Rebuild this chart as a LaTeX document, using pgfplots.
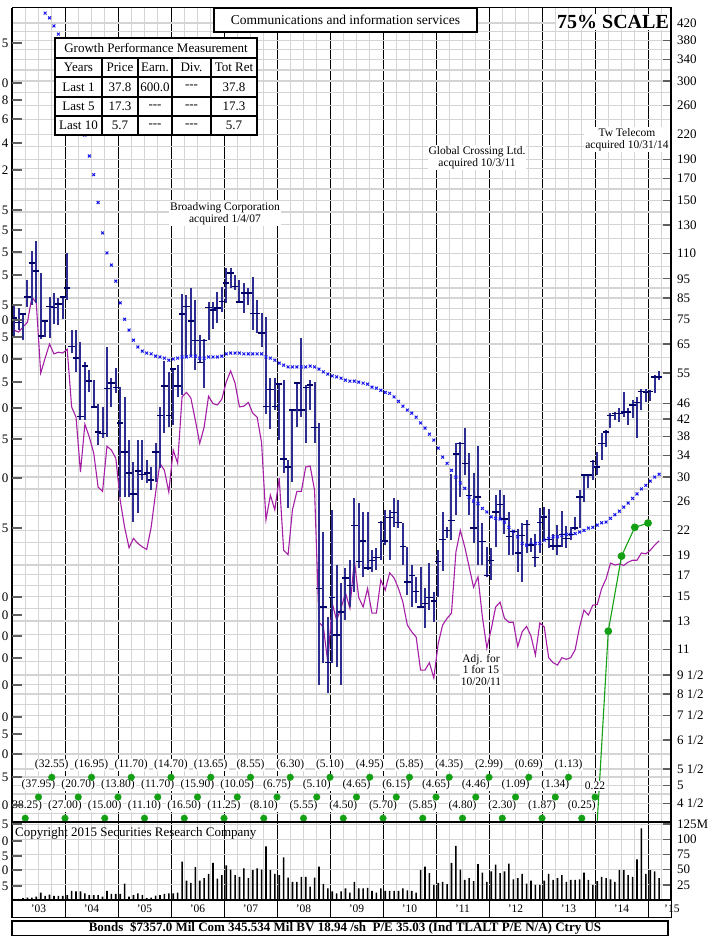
\documentclass[border=0pt]{standalone}
\usepackage{fontspec}
\setmainfont{Liberation Serif}
\usepackage{pgfplots}
\pgfplotsset{compat=1.18}
\usepackage{pgfplotstable}

\definecolor{barblue}{RGB}{45,45,145}
\definecolor{closeblue}{RGB}{0,0,105}
\definecolor{xblue}{RGB}{25,25,235}
\definecolor{rsmag}{RGB}{165,30,165}
\definecolor{epsgreen}{RGB}{20,160,20}
\definecolor{gridgray}{RGB}{212,212,212}
\definecolor{tickgray}{RGB}{95,95,95}

\newcommand{\fs}[1]{\fontsize{#1}{#1}\selectfont}

% monthly price bars, m = months since Jan 2003
\pgfplotstableread{
m hi lo cl
0 81.0 67.7 75.6
1 80.1 70.5 73.8
2 77.8 66.5 77.4
3 94.3 80.5 85.4
4 111.6 81.5 104.1
5 118.3 82.6 99.4
6 98.2 66.9 68.1
7 74.7 67.7 74.3
8 85.4 67.3 81.0
9 87.4 73.0 80.5
10 84.9 72.6 82.0
11 85.8 75.1 85.4
12 110.4 84.0 90.0
13 70.5 61.7 64.2
14 70.5 55.3 59.9
15 65.7 41.8 42.7
16 58.5 41.8 57.2
17 55.9 49.1 52.4
18 52.7 44.8 45.1
19 46.0 36.1 39.0
20 45.1 37.6 38.7
21 63.9 37.9 50.3
22 53.3 45.1 51.8
23 56.5 48.8 50.6
24 50.6 26.7 41.1
25 47.8 26.7 34.7
26 37.2 26.7 30.7
27 32.7 23.1 27.2
28 37.2 24.4 31.1
29 37.2 29.5 30.5
30 33.1 29.0 30.7
31 31.8 27.8 29.5
32 36.5 29.1 34.7
33 45.1 31.6 43.0
34 58.9 38.7 50.9
35 55.3 40.1 43.0
36 56.5 40.6 56.2
37 57.5 47.8 50.9
38 86.9 48.3 77.4
39 86.4 60.3 81.0
40 90.0 61.0 74.3
41 84.0 55.9 66.5
42 68.5 58.2 58.5
43 66.9 50.3 66.5
44 83.0 66.5 80.5
45 83.0 70.9 79.2
46 87.9 73.4 80.1
47 90.5 78.3 83.4
48 101.1 82.6 92.7
49 101.1 90.0 98.2
50 97.1 89.0 91.0
51 94.3 82.6 83.0
52 92.7 77.8 87.4
53 90.0 81.5 87.4
54 96.0 70.5 77.8
55 84.0 69.3 77.8
56 77.8 63.9 69.3
57 76.0 43.3 45.3
58 53.3 39.6 50.0
59 53.3 44.3 45.3
60 51.8 37.2 51.5
61 52.7 30.7 33.3
62 33.1 25.1 31.8
63 44.6 29.1 44.3
64 52.1 40.1 51.8
65 67.3 42.5 44.3
66 51.2 36.5 50.6
67 52.7 44.3 51.2
68 52.1 36.5 40.1
69 41.1 8.95 15.7
70 21.8 10.2 14.1
71 13.3 8.55 10.2
72 24.8 10.2 14.9
73 18.0 9.95 11.97
74 16.2 8.95 13.7
75 17.7 13.06 16.7
76 18.5 14.1 16.0
77 26.5 15.4 22.6
78 25.8 17.7 18.4
79 24.5 16.8 20.7
80 24.5 17.5 17.7
81 19.6 17.3 18.5
82 19.9 17.5 18.8
83 23.2 18.5 23.0
84 24.8 20.2 20.7
85 24.8 18.5 23.7
86 26.5 22.4 24.4
87 26.2 22.3 23.0
88 23.0 18.0 20.0
89 20.0 15.1 16.3
90 18.0 14.1 16.9
91 16.8 14.4 15.4
92 17.8 14.0 14.1
93 15.7 12.5 14.4
94 18.2 13.85 14.9
95 15.4 12.9 14.6
96 19.6 14.9 18.4
97 24.5 17.4 20.9
98 22.4 21.0 22.0
99 30.5 20.8 23.3
100 36.5 24.1 34.3
101 36.8 26.7 36.5
102 39.8 30.35 32.5
103 34.5 24.1 27.0
104 30.7 20.4 22.3
105 35.9 18.0 26.7
106 23.0 18.0 20.6
107 20.0 16.8 16.9
108 19.9 16.5 18.5
109 27.0 20.0 24.5
110 27.8 23.4 25.6
111 27.0 21.6 23.5
112 24.5 19.1 21.2
113 22.0 19.1 21.9
114 22.2 17.3 19.3
115 23.0 16.3 21.4
116 23.4 19.3 22.8
117 21.0 19.4 20.2
118 21.6 17.8 18.8
119 25.1 19.3 23.0
120 25.2 20.8 23.8
121 24.9 19.9 20.9
122 21.6 19.6 20.1
123 22.7 19.1 20.1
124 24.6 20.0 21.5
125 22.6 19.9 21.0
126 22.4 20.8 21.5
127 23.8 22.1 22.3
128 27.8 22.3 26.7
129 30.5 25.9 30.35
130 30.5 28.1 30.35
131 33.1 29.5 32.9
132 34.7 30.35 31.8
133 38.7 33.1 36.5
134 39.4 35.7 39.0
135 43.5 39.8 43.0
136 43.8 41.8 43.5
137 44.8 41.3 43.5
138 49.1 42.5 43.8
139 44.8 40.6 43.8
140 46.9 42.3 45.6
141 47.8 37.6 46.3
142 50.0 44.3 49.4
143 50.0 46.3 49.1
144 49.7 46.6 49.4
145 54.3 48.8 53.7
146 55.6 52.7 53.7
}\pricedata

% blue crosses (months hidden behind the table left out)
\pgfplotstableread{
m v
7 445
8 433
9 413
10 394
16 219
17 194
18 174
19 148
20 124
21 110.4
22 102.9
23 93.7
24 82.6
25 75.1
26 70.5
27 66.5
28 63.9
29 62.4
30 61.7
31 61.4
32 60.6
33 60.3
34 59.9
35 59.2
36 59.6
37 59.9
38 60.3
39 60.3
40 60.6
41 60.6
42 59.9
43 59.9
44 60.3
45 60.3
46 60.3
47 60.6
48 61.4
49 61.7
50 61.7
51 61.7
52 61.4
53 61.4
54 61.4
55 61.4
56 61.4
57 60.3
58 59.9
59 59.2
60 58.2
61 57.5
62 56.9
63 56.9
64 56.9
65 56.9
66 56.9
67 57.2
68 56.9
69 56.2
70 55.3
71 54.6
72 54.0
73 53.7
74 53.3
75 52.7
76 52.4
77 52.4
78 52.1
79 51.8
80 51.5
81 50.6
82 50.3
83 49.7
84 49.1
85 48.8
86 47.8
87 46.6
88 45.3
89 44.3
90 43.5
91 42.5
92 41.1
93 39.9
94 38.5
95 37.2
96 35.5
97 33.7
98 32.5
99 31.2
100 30.0
101 29.0
102 28.1
103 26.7
104 26.1
105 25.7
106 25.0
107 24.5
108 23.8
109 23.6
110 23.5
111 23.1
112 22.4
113 21.9
114 21.2
115 20.4
116 20.2
117 20.3
118 20.4
119 20.4
120 20.8
121 21.0
122 21.2
123 21.2
124 21.4
125 21.5
126 21.5
127 21.6
128 21.8
129 22.0
130 22.3
131 22.4
132 22.7
133 23.0
134 23.1
135 23.6
136 24.1
137 24.6
138 25.2
139 25.8
140 26.5
141 27.2
142 28.0
143 28.6
144 29.3
145 30.0
146 30.5
}\maxdata

% magenta line
\pgfplotstableread{
m v
0 70.5
1 69.7
2 71.8
3 73.8
4 85.4
5 82.5
6 54.9
7 59.9
8 65.0
9 61.4
10 62.0
11 61.7
12 63.1
13 45.1
14 42.5
15 30.9
16 40.8
17 37.9
18 34.5
19 28.3
20 27.6
21 35.9
22 35.1
23 33.5
24 26.2
25 22.4
26 19.9
27 21.0
28 20.4
29 20.0
30 19.7
31 22.4
32 27.3
33 32.5
34 31.2
35 27.5
36 35.1
37 32.5
38 47.8
39 49.1
40 47.5
41 41.8
42 36.5
43 40.1
44 48.0
45 46.0
46 45.6
47 47.2
48 52.1
49 55.6
50 51.8
51 45.1
52 45.3
53 46.3
54 43.5
55 42.5
56 36.7
57 23.4
58 27.0
59 24.8
60 29.8
61 19.6
62 19.1
63 24.8
64 27.6
65 27.6
66 31.8
67 32.0
68 27.8
69 12.9
70 12.55
71 10.2
72 14.4
73 13.06
74 14.0
75 15.3
76 14.0
77 18.5
78 14.9
79 14.1
80 15.7
81 13.6
82 13.6
83 16.5
84 15.55
85 17.2
86 16.7
87 15.7
88 14.5
89 12.7
90 12.2
91 11.84
92 9.77
93 9.77
94 10.2
95 9.33
96 11.4
97 12.7
98 13.2
99 13.6
100 19.4
101 22.0
102 20.0
103 17.8
104 15.8
105 16.8
106 13.3
107 11.1
108 12.4
109 14.1
110 14.5
111 13.2
112 12.9
113 12.9
114 11.2
115 12.2
116 12.6
117 11.9
118 10.66
119 12.85
120 12.55
121 10.5
122 10.2
123 10.06
124 10.5
125 10.4
126 10.5
127 11.0
128 12.55
129 13.85
130 13.45
131 14.25
132 14.3
133 15.7
134 16.6
135 18.2
136 18.0
137 18.1
138 17.95
139 18.3
140 18.5
141 18.5
142 19.3
143 19.2
144 19.6
145 20.2
146 20.7
}\rsdata

% earnings line
\pgfplotstableread{
t v
132 3.24
135 12.25
138 18.95
141 22.4
144 22.96
}\epsline

% quarterly earnings dots in three staggered rows
\pgfplotstableread{
t v lab
3 4.13 (38.25)
12 4.13 (27.00)
21 4.13 (15.00)
30 4.13 (11.10)
39 4.13 (16.50)
48 4.13 (11.25)
57 4.13 (8.10)
66 4.13 (5.55)
75 4.13 (4.50)
84 4.13 (5.70)
93 4.13 (5.85)
102 4.13 (4.80)
111 4.13 (2.30)
120 4.13 (1.87)
129 4.13 (0.25)
6 4.67 (37.95)
15 4.67 (20.70)
24 4.67 (13.80)
33 4.67 (11.70)
42 4.67 (15.90)
51 4.67 (10.05)
60 4.67 (6.75)
69 4.67 (5.10)
78 4.67 (4.65)
87 4.67 (6.15)
96 4.67 (4.65)
105 4.67 (4.46)
114 4.67 (1.09)
123 4.67 (1.34)
132 4.67 0.22
9 5.24 (32.55)
18 5.24 (16.95)
27 5.24 (11.70)
36 5.24 (14.70)
45 5.24 (13.65)
54 5.24 (8.55)
63 5.24 (6.30)
72 5.24 (5.10)
81 5.24 (4.95)
90 5.24 (5.85)
99 5.24 (4.35)
108 5.24 (2.99)
117 5.24 (0.69)
126 5.24 (1.13)
}\epsdata

% monthly volume, millions
\pgfplotstableread{
m v
0 2
1 2
2 3
3 4
4 4
5 5.5
6 12
7 6.6
8 9
9 6.6
10 6.6
11 6.6
12 8
13 15
14 14
15 14
16 11
17 8
18 8
19 8
20 5.5
21 15
22 10
23 10
24 10
25 27
26 5.5
27 8
28 11
29 8
30 3
31 4
32 7
33 8
34 10
35 11
36 11
37 12
38 63
39 32
40 28
41 54
42 32
43 36
44 43
45 61
46 35
47 41
48 57
49 50
50 41
51 38
52 52
53 36
54 49
55 52
56 50
57 88
58 49
59 43
60 41
61 70
62 37
63 30
64 30
65 38
66 38
67 22
68 37
69 55
70 26
71 19
72 14
73 11
74 14
75 19
76 12
77 30
78 19
79 19
80 20
81 15
82 12
83 19
84 15
85 15
86 15
87 15
88 19
89 16
90 15
91 12
92 49
93 55
94 44
95 25
96 28
97 30
98 26
99 61
100 89
101 50
102 33
103 36
104 31
105 59
106 45
107 30
108 47
109 58
110 44
111 47
112 60
113 34
114 36
115 43
116 27
117 32
118 25
119 25
120 32
121 43
122 33
123 36
124 41
125 30
126 33
127 33
128 34
129 45
130 33
131 25
132 31
133 38
134 36
135 34
136 30
137 49
138 49
139 41
140 38
141 67
142 118
143 43
144 49
145 47
146 36
}\voldata

\pgfplotsset{
  chartx/.style={
    scale only axis, width=659pt, anchor=south west,
    xmin=0, xmax=149.2,
    xtick={12,24,...,144}, xticklabels={}, xtick style={draw=none},
    minor xtick={3,6,9,15,18,21,27,30,33,39,42,45,51,54,57,63,66,69,75,78,81,87,90,93,99,102,105,111,114,117,123,126,129,135,138,141,147},
    xmajorgrids, xminorgrids,
    major x grid style={black, line width=1pt},
    minor x grid style={gridgray, line width=1.3pt},
    axis line style={black, line width=1pt},
  },
}

\begin{document}
\begin{tikzpicture}
\useasboundingbox (0pt,0pt) rectangle (717pt,936pt);

% price panel: linear axis in ln(price), ticks set at ln of the price steps
\begin{axis}[chartx, at={(12pt,114pt)}, height=814pt,
  ymin=1.3962, ymax=6.1280,
  ytick={6.0403,5.9402,5.8289,5.7038,5.5607,5.3936,5.2470,5.1358,5.0106,4.8675,4.7005,4.5539,4.4427,4.3175,4.1744,4.0073,3.8286,3.7377,3.6376,3.5264,3.4012,3.2581,3.0910,2.9444,2.8332,2.7081,2.5649,2.3979,2.2513,2.1401,2.0149,1.8718,1.7047,1.6094,1.5041},
  yticklabels={420,380,340,300,260,220,190,170,150,130,110,95,85,75,65,55,46,42,38,34,30,26,22,19,17,15,13,11,9 1/2,8 1/2,7 1/2,6 1/2,5 1/2,5,4 1/2},
  minor ytick={5.9915,5.8861,5.7683,5.6348,5.4806,5.3230,5.1930,5.0752,4.9416,4.7875,4.6250,4.4998,4.3820,4.2485,4.0943,3.9120,3.7842,3.6889,3.5835,3.4657,3.3322,3.1781,3.0204,2.8904,2.7726,2.6391,2.4849,2.3273,2.1972,2.0794,1.9459,1.7918,1.6582,1.5581,1.4469},
  ymajorgrids, yminorgrids,
  major y grid style={gridgray, line width=1.3pt},
  minor y grid style={gridgray, line width=1.3pt},
  ytick pos=right, yticklabel pos=right, tick align=inside,
  major tick length=8pt, minor tick length=0pt,
  ytick style={tickgray, line width=1.4pt},
  yticklabel style={anchor=west, inner sep=0pt, xshift=6pt, font=\fs{13}},
]
\addplot[rsmag, line width=1.1pt, no marks]
  table[x expr=\thisrow{m}+0.5, y expr=ln(\thisrow{v})] {\rsdata};
\addplot[only marks, xblue, mark=x, mark size=2pt, mark options={line width=1pt}]
  table[x expr=\thisrow{m}+0.5, y expr=ln(\thisrow{v})] {\maxdata};
\addplot[only marks, mark=-, mark size=3.2pt, mark options={closeblue, line width=1.3pt},
  error bars/.cd, y dir=both, y explicit,
  error bar style={barblue, line width=2pt}, error mark=none]
  table[x expr=\thisrow{m}+0.5, y expr=ln(\thisrow{cl}),
        y error plus expr=ln(\thisrow{hi})-ln(\thisrow{cl}),
        y error minus expr=ln(\thisrow{cl})-ln(\thisrow{lo})] {\pricedata};
% earnings labels first (white boxes), dots on top
\addplot[only marks, mark=*, mark size=0.01pt, mark options={draw=none, fill=none},
  nodes near coords, point meta=explicit symbolic,
  nodes near coords align={above},
  nodes near coords style={black, fill=white, inner sep=1pt, yshift=6pt, font=\fs{11.5}}]
  table[x=t, y expr=ln(\thisrow{v}), meta=lab] {\epsdata};
\addplot[only marks, mark=*, mark size=3.3pt, epsgreen]
  table[x=t, y expr=ln(\thisrow{v})] {\epsdata};
\addplot[epsgreen, line width=1.1pt, mark=*, mark size=3.3pt]
  table[x=t, y expr=ln(\thisrow{v})] {\epsline};
\end{axis}

% volume panel
\begin{axis}[chartx, at={(12pt,36pt)}, height=78pt,
  ymin=0, ymax=128.3,
  ytick={25,50,75,100,125}, yticklabels={25,50,75,100,125M},
  ymajorgrids, major y grid style={gridgray, line width=1pt},
  ytick pos=right, yticklabel pos=right, tick align=inside,
  major tick length=8pt, minor tick length=0pt,
  ytick style={tickgray, line width=1.4pt},
  yticklabel style={anchor=west, inner sep=0pt, xshift=6pt, font=\fs{13}},
]
\addplot[ybar, bar width=1.6pt, fill=black, draw=none]
  table[x expr=\thisrow{m}+0.5, y=v] {\voldata};
\end{axis}

% year label row
\begin{axis}[chartx, at={(12pt,18pt)}, height=18pt, ymin=0, ymax=1, ytick=\empty,
  minor xtick={}, clip=false]
\addplot[draw=none] coordinates {(1,0.5)};
\node[font=\fs{11.5}] at (axis cs:6,0.5) {'03};
\node[font=\fs{11.5}] at (axis cs:18,0.5) {'04};
\node[font=\fs{11.5}] at (axis cs:30,0.5) {'05};
\node[font=\fs{11.5}] at (axis cs:42,0.5) {'06};
\node[font=\fs{11.5}] at (axis cs:54,0.5) {'07};
\node[font=\fs{11.5}] at (axis cs:66,0.5) {'08};
\node[font=\fs{11.5}] at (axis cs:78,0.5) {'09};
\node[font=\fs{11.5}] at (axis cs:90,0.5) {'10};
\node[font=\fs{11.5}] at (axis cs:102,0.5) {'11};
\node[font=\fs{11.5}] at (axis cs:114,0.5) {'12};
\node[font=\fs{11.5}] at (axis cs:126,0.5) {'13};
\node[font=\fs{11.5}] at (axis cs:138,0.5) {'14};
\node[font=\fs{11.5}] at (axis cs:149.4,0.5) {'15};
\end{axis}

\begin{scope}[x=1pt,y=1pt]
% trim the earnings label that runs past the left frame
\fill[white] (0,936-813) rectangle (11,936-797);

% frame lines
\draw[line width=2pt] (12,928) -- (12,18);
\draw[line width=2.6pt] (671,928) -- (671,36);
\draw[line width=2pt] (12,114) -- (671,114);

% left-hand scale, cut at the page edge
\foreach \py/\lab in {43/5,83/0,100/8,119/6,143/4,170/2,210/5,230/5,252/5,275/5,305/5,320/0,337/5,359/0,382/5,408/0,439/5,478/0,528/5,597/0,615/0,636/0,658/0,685/0,717/0,734/5,754/0,777/5,805/0,824/5,841/0,856/5,870/0,886/5}{
  \draw[tickgray, line width=1.4pt] (12,936-\py) -- (22,936-\py);
  \node[anchor=east, inner sep=0pt, font=\fs{13}] at (8.5,936-\py) {\lab};
}

% title box and scale
\draw[line width=2pt, fill=white] (214,928) rectangle (477,904);
\node[font=\fs{13.5}] at (345.5,916) {Communications and information services};
\node[fill=white, inner sep=1pt, font=\bfseries\fs{20}] at (613,914) {75\% SCALE};

% growth table
\draw[line width=1.2pt, fill=white] (55,898) rectangle (257,801);
\foreach \yy in {878,859,839,820} {\draw[line width=1.2pt] (55,\yy) -- (257,\yy);}
\foreach \xx in {102,138,172,211} {\draw[line width=1.2pt] (\xx,878) -- (\xx,801);}
\node[font=\fs{13}] at (156,888) {Growth Performance Measurement};
\foreach \tx/\ty/\tt in {78.5/868.5/Years, 120/868.5/Price, 155/868.5/Earn., 191.5/868.5/Div., 234/868.5/Tot Ret,
  78.5/849/Last 1, 120/849/37.8, 155/849/600.0, 234/849/37.8,
  78.5/829.5/Last 5, 120/829.5/17.3, 234/829.5/17.3,
  78.5/810.5/Last 10, 120/810.5/5.7, 234/810.5/5.7}
  {\node[font=\fs{13}] at (\tx,\ty) {\tt};}
\foreach \tx/\ty in {191.5/849, 155/829.5, 191.5/829.5, 155/810.5, 191.5/810.5}
  {\node[font=\fs{13}] at (\tx,\ty) {{-}{-}{-}};}

% notes
\node[fill=white, inner sep=1pt, align=center, font=\fs{11.5}] at (225,722.5) {Broadwing Corporation\\[1pt]acquired 1/4/07};
\node[fill=white, inner sep=1pt, align=center, font=\fs{11.5}] at (477,778.5) {Global Crossing Ltd.\\[1pt]acquired 10/3/11};
\node[fill=white, inner sep=1pt, align=center, font=\fs{11.5}] at (627,796.5) {Tw Telecom\\[1pt]acquired 10/31/14};
\node[fill=white, inner sep=1pt, align=center, font=\fs{11.5}] at (481,266) {Adj. for\\1 for 15\\10/20/11};
\node[inner sep=1pt, anchor=west, font=\fs{13}] at (14,103) {Copyright 2015 Securities Research Company};

% bottom line
\draw[line width=1.4pt] (12,0.7) rectangle (668,15);
\node[font=\bfseries\fs{13}] at (345,7.5) {Bonds\ \ \$7357.0 Mil Com 345.534 Mil BV 18.94 /sh\ \ P/E 35.03 (Ind TLALT P/E N/A) Ctry US};
\end{scope}
\end{tikzpicture}
\end{document}
